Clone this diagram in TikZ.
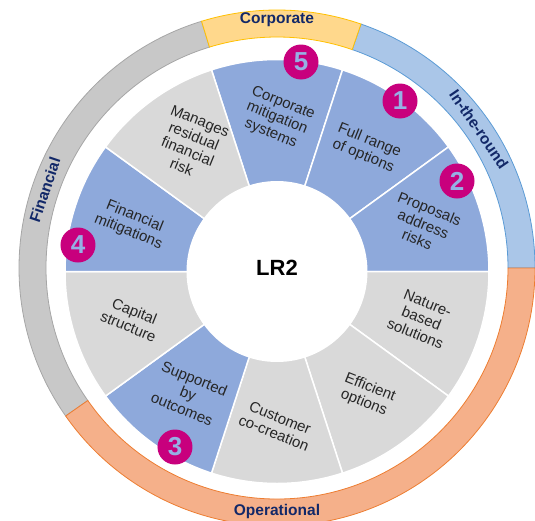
\documentclass[tikz,border=0pt]{standalone}
\usepackage{fontspec}
\setmainfont{Liberation Sans}
\definecolor{secblue}{RGB}{142,169,219}
\definecolor{secgray}{RGB}{217,217,217}
\definecolor{bandgray}{RGB}{200,200,200}
\definecolor{bandgrayedge}{RGB}{166,166,166}
\definecolor{bandgold}{RGB}{255,216,140}
\definecolor{bandgoldedge}{RGB}{255,192,0}
\definecolor{bandblue}{RGB}{170,198,232}
\definecolor{bandblueedge}{RGB}{91,155,213}
\definecolor{bandorange}{RGB}{245,176,138}
\definecolor{bandorangeedge}{RGB}{237,125,49}
\definecolor{navy}{RGB}{18,40,104}
\definecolor{badgepink}{RGB}{200,0,125}
\definecolor{badgetext}{RGB}{150,176,228}

\begin{document}
\begin{tikzpicture}[x=1pt,y=1pt,
wedge/.style={draw=white,line width=1.5pt},
band/.style={line width=0.8pt},
seclabel/.style={align=center,rotate=-22,font=\fontsize{15}{16.5}\selectfont,text=black!85},
bandlabel/.style={font=\fontsize{15.5}{18}\selectfont\bfseries,text=navy},
hub/.style={circle,fill=white,minimum size=181pt,inner sep=0pt},
badge/.style={circle,fill=badgepink,minimum size=35pt,inner sep=0pt,text=badgetext,font=\fontsize{26}{26}\selectfont\bfseries}]
\useasboundingbox (-277,-248.5) rectangle (258,271.5);
% outer band, four coloured arcs
\begin{scope}[shift={(0,3.5)}]
\filldraw[band,fill=bandgray,draw=bandgrayedge] (107:231) arc[start angle=107,end angle=215,radius=231] -- (215:258) arc[start angle=215,end angle=107,radius=258] -- cycle;
\filldraw[band,fill=bandblue,draw=bandblueedge] (0:231) arc[start angle=0,end angle=71,radius=231] -- (71:258) arc[start angle=71,end angle=0,radius=258] -- cycle;
\filldraw[band,fill=bandorange,draw=bandorangeedge] (-145:231) arc[start angle=-145,end angle=0,radius=231] -- (0:258) arc[start angle=0,end angle=-145,radius=258] -- cycle;
\filldraw[band,fill=bandgold,draw=bandgoldedge] (71:231) arc[start angle=71,end angle=107,radius=231] -- (107:258) arc[start angle=107,end angle=71,radius=258] -- cycle;
\node[bandlabel] (corp) at (90:248) {Corporate};
\node[bandlabel,rotate=-55.5] (round) at (34.5:245) {In-the-round};
\node[bandlabel,rotate=71.4] (fin) at (161.4:245) {Financial};
\node[bandlabel] (oper) at (270:243) {Operational};
\end{scope}
% ten wedges
\filldraw[wedge,fill=secblue] (0,0) -- (72:212) arc[start angle=72,end angle=108,radius=212] -- cycle;
\filldraw[wedge,fill=secblue] (0,0) -- (36:212) arc[start angle=36,end angle=72,radius=212] -- cycle;
\filldraw[wedge,fill=secblue] (0,0) -- (0:212) arc[start angle=0,end angle=36,radius=212] -- cycle;
\filldraw[wedge,fill=secgray] (0,0) -- (-36:212) arc[start angle=-36,end angle=0,radius=212] -- cycle;
\filldraw[wedge,fill=secgray] (0,0) -- (-72:212) arc[start angle=-72,end angle=-36,radius=212] -- cycle;
\filldraw[wedge,fill=secgray] (0,0) -- (-108:212) arc[start angle=-108,end angle=-72,radius=212] -- cycle;
\filldraw[wedge,fill=secblue] (0,0) -- (-144:212) arc[start angle=-144,end angle=-108,radius=212] -- cycle;
\filldraw[wedge,fill=secgray] (0,0) -- (180:212) arc[start angle=180,end angle=216,radius=212] -- cycle;
\filldraw[wedge,fill=secblue] (0,0) -- (144:212) arc[start angle=144,end angle=180,radius=212] -- cycle;
\filldraw[wedge,fill=secgray] (0,0) -- (108:212) arc[start angle=108,end angle=144,radius=212] -- cycle;
\node[seclabel] (s1) at (90:153) {Corporate\\mitigation\\systems};
\node[seclabel] (s2) at (54:152) {Full range\\of options};
\node[seclabel] (s3) at (18:154) {Proposals\\address\\risks};
\node[seclabel] (s4) at (-18:152) {Nature-\\based\\solutions};
\node[seclabel] (s5) at (-54:153) {Efficient\\options};
\node[seclabel] (s6) at (-90:154) {Customer\\co-creation};
\node[seclabel] (s7) at (-126:151) {Supported\\by\\outcomes};
\node[seclabel] (s8) at (198:153) {Capital\\structure};
\node[seclabel] (s9) at (162:153) {Financial\\mitigations};
\node[seclabel] (s10) at (124:154) {Manages\\residual\\financial\\risk};
% centre
\node[hub] (hub) at (0,0) {};
\node[font=\fontsize{22}{22}\selectfont\bfseries] (lr) at (0,3.5) {LR2};
% numbered badges
\node[badge] (n1) at (123,170.5) {1};
\node[badge] (n2) at (180,90.5) {2};
\node[badge] (n3) at (-102,-175.5) {3};
\node[badge] (n4) at (-199,26.5) {4};
\node[badge] (n5) at (24,209.5) {5};
\end{tikzpicture}
\end{document}
